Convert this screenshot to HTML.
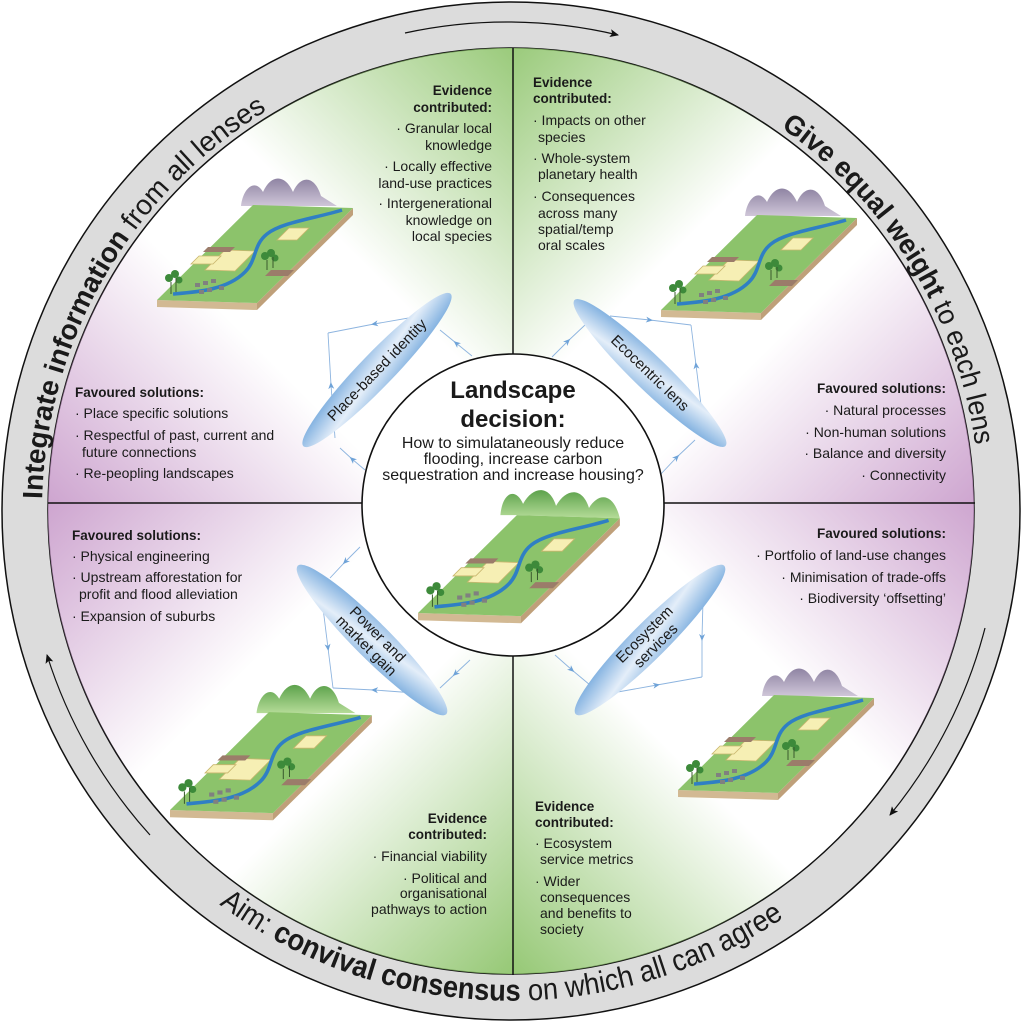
<!DOCTYPE html>
<html><head><meta charset="utf-8"><style>
html,body{margin:0;padding:0;background:#fff}
svg{display:block}
text{font-family:"Liberation Sans",sans-serif;fill:#1a1a1a}
.t{font-size:14px}
.b{font-weight:bold;font-size:13.5px}
</style></head><body>
<svg width="1022" height="1023" viewBox="0 0 1022 1023" xmlns="http://www.w3.org/2000/svg">
<defs>
<clipPath id="inner"><circle cx="511" cy="511" r="463"/></clipPath>
<linearGradient id="gTL" gradientUnits="userSpaceOnUse" x1="513" y1="503" x2="763" y2="253"><stop offset="0.18" stop-color="#8ec46b" stop-opacity="0"/><stop offset="1" stop-color="#8ec46b" stop-opacity="1"/></linearGradient>
<linearGradient id="pTL" gradientUnits="userSpaceOnUse" x1="513" y1="503" x2="263" y2="753"><stop offset="0.2" stop-color="#c697c8" stop-opacity="0"/><stop offset="1" stop-color="#c697c8" stop-opacity="0.95"/></linearGradient>
<linearGradient id="gTR" gradientUnits="userSpaceOnUse" x1="513" y1="503" x2="263" y2="253"><stop offset="0.18" stop-color="#8ec46b" stop-opacity="0"/><stop offset="1" stop-color="#8ec46b" stop-opacity="1"/></linearGradient>
<linearGradient id="pTR" gradientUnits="userSpaceOnUse" x1="513" y1="503" x2="763" y2="753"><stop offset="0.2" stop-color="#c697c8" stop-opacity="0"/><stop offset="1" stop-color="#c697c8" stop-opacity="0.95"/></linearGradient>
<linearGradient id="gBL" gradientUnits="userSpaceOnUse" x1="513" y1="503" x2="763" y2="753"><stop offset="0.18" stop-color="#8ec46b" stop-opacity="0"/><stop offset="1" stop-color="#8ec46b" stop-opacity="1"/></linearGradient>
<linearGradient id="pBL" gradientUnits="userSpaceOnUse" x1="513" y1="503" x2="263" y2="253"><stop offset="0.2" stop-color="#c697c8" stop-opacity="0"/><stop offset="1" stop-color="#c697c8" stop-opacity="0.95"/></linearGradient>
<linearGradient id="gBR" gradientUnits="userSpaceOnUse" x1="513" y1="503" x2="263" y2="753"><stop offset="0.18" stop-color="#8ec46b" stop-opacity="0"/><stop offset="1" stop-color="#8ec46b" stop-opacity="1"/></linearGradient>
<linearGradient id="pBR" gradientUnits="userSpaceOnUse" x1="513" y1="503" x2="763" y2="253"><stop offset="0.2" stop-color="#c697c8" stop-opacity="0"/><stop offset="1" stop-color="#c697c8" stop-opacity="0.95"/></linearGradient>
<linearGradient id="lensG" x1="0" y1="0" x2="1" y2="1"><stop offset="0" stop-color="#5e9bd7"/><stop offset="0.5" stop-color="#e4eef9"/><stop offset="1" stop-color="#5e9bd7"/></linearGradient>
<linearGradient id="mp" x1="0" y1="0" x2="0" y2="1"><stop offset="0" stop-color="#8f84a3"/><stop offset="1" stop-color="#cfc6d8"/></linearGradient>
<linearGradient id="mg" x1="0" y1="0" x2="0" y2="1"><stop offset="0" stop-color="#5da24c"/><stop offset="1" stop-color="#b5dc98"/></linearGradient>
<marker id="ah" markerWidth="10" markerHeight="10" refX="8" refY="5" orient="auto" markerUnits="userSpaceOnUse"><path d="M0,1 L9,5 L0,9 L2,5 Z" fill="#111"/></marker>
<marker id="ba" markerWidth="8" markerHeight="8" refX="4" refY="4" orient="auto" markerUnits="userSpaceOnUse"><path d="M0,1 L7,4 L0,7 L2,4 Z" fill="#6fa3d8"/></marker>
<path id="cw" d="M 42,511 A 469 469 0 1 1 980,511 A 469 469 0 1 1 42,511"/>
<path id="bot" d="M 216,902 A 490 490 0 0 0 826,886"/>
<g id="tile">
<polygon points="0,0 100,3 100,10 0,7" fill="#d2b993"/>
<polygon points="100,3 196,-92 196,-85 100,10" fill="#bfa07a"/>
<polygon points="0,0 100,3 196,-92 96,-95" fill="#8cc36b"/>
<polygon points="48,-30 78,-29 98,-49 68,-50" fill="#f6efb4" stroke="#c9b66e" stroke-width=".8"/>
<polygon points="34,-36 56,-36 64,-44 42,-44" fill="#f6efb4" stroke="#c9b66e" stroke-width=".8"/>
<polygon points="46,-48 73,-48 78,-53 51,-53" fill="#9b7c6a"/>
<polygon points="120,-60 140,-60 152,-72 132,-72" fill="#f6efb4" stroke="#c9b66e" stroke-width=".8"/>
<polygon points="108,-24 131,-24 137,-30 114,-30" fill="#9b7c6a"/>
<path d="M 16,-6 C 40,-8 70,-10 88,-28 C 100,-40 96,-55 110,-66 C 125,-78 160,-82 185,-90" fill="none" stroke="#2f7fc4" stroke-width="3.5"/>
<g fill="#808080"><rect x="38" y="-17" width="5" height="4"/><rect x="46" y="-19" width="5" height="4"/><rect x="54" y="-21" width="5" height="4"/><rect x="42" y="-10" width="5" height="4"/><rect x="50" y="-12" width="5" height="4"/><rect x="62" y="-14" width="5" height="4"/></g>
<g fill="#3d8a3a"><circle cx="12" cy="-22" r="4"/><circle cx="18" cy="-26" r="4"/><circle cx="22" cy="-20" r="3.5"/><circle cx="108" cy="-44" r="4"/><circle cx="114" cy="-47" r="4"/><circle cx="118" cy="-42" r="3.5"/></g>
<g stroke="#3a5b2e" stroke-width="1"><line x1="14" y1="-18" x2="14" y2="-6"/><line x1="19" y1="-22" x2="19" y2="-8"/><line x1="110" y1="-40" x2="110" y2="-30"/><line x1="116" y1="-43" x2="116" y2="-32"/></g>
</g>
<path id="mtn" d="M 84,-94 C 86,-112 98,-122 106,-108 C 114,-126 128,-126 136,-108 C 144,-126 158,-124 164,-104 L 180,-94 Z" fill="url(#mp)"/>
</defs>

<circle cx="511" cy="511" r="509" fill="#dcdcdc" stroke="#111" stroke-width="1.5"/>
<circle cx="511" cy="511" r="463" fill="#fff" stroke="#111" stroke-width="1.5"/>

<g clip-path="url(#inner)">
<rect x="40" y="40" width="473" height="463" fill="url(#gTL)"/>
<rect x="40" y="40" width="473" height="463" fill="url(#pTL)"/>
<rect x="513" y="40" width="470" height="463" fill="url(#gTR)"/>
<rect x="513" y="40" width="470" height="463" fill="url(#pTR)"/>
<rect x="40" y="503" width="473" height="480" fill="url(#gBL)"/>
<rect x="40" y="503" width="473" height="480" fill="url(#pBL)"/>
<rect x="513" y="503" width="470" height="480" fill="url(#gBR)"/>
<rect x="513" y="503" width="470" height="480" fill="url(#pBR)"/>
</g>
<line x1="48" y1="503" x2="975" y2="503" stroke="#111" stroke-width="1.5"/>
<line x1="513" y1="48" x2="513" y2="975" stroke="#111" stroke-width="1.5"/>

<g fill="none" stroke="#111" stroke-width="1.2" marker-end="url(#ah)">
<path d="M 405,33 A 479 479 0 0 1 618,35"/>
<path d="M 150,835 A 486 486 0 0 1 47,655"/>
<path d="M 985,628 A 488 488 0 0 1 890,815"/>
</g>

<text font-size="28"><textPath href="#cw" startOffset="12" textLength="468" lengthAdjust="spacingAndGlyphs"><tspan font-weight="bold">Integrate information</tspan> from all lenses</textPath></text>
<text font-size="28"><textPath href="#cw" startOffset="1024" textLength="383" lengthAdjust="spacingAndGlyphs"><tspan font-weight="bold">Give equal weight</tspan> to each lens</textPath></text>
<text font-size="30"><textPath href="#bot" startOffset="4" textLength="602" lengthAdjust="spacingAndGlyphs">Aim: <tspan font-weight="bold">convival consensus</tspan> on which all can agree</textPath></text>

<g transform="translate(157,300)"><use href="#mtn"/><use href="#tile"/></g>
<g transform="translate(661,310)"><use href="#mtn"/><use href="#tile"/></g>
<g transform="translate(170,810) scale(1.03)"><path d="M 84,-94 C 86,-112 98,-122 106,-108 C 114,-126 128,-126 136,-108 C 144,-126 158,-124 164,-104 L 180,-94 Z" fill="url(#mg)"/><use href="#tile"/></g>
<g transform="translate(678,790)"><use href="#mtn"/><use href="#tile"/></g>

<g fill="none" stroke="#8db4df" stroke-width="0.9" marker-mid="url(#ba)">
<polyline points="472,356 456,343 440,330"/>
<polyline points="420,316 374,324 328,333"/>
<polyline points="335,438 331,385 328,333"/>
<polyline points="365,470 352,459 340,448"/>
<polyline points="552,357 568,341 585,325"/>
<polyline points="610,316 650,320 691,325"/>
<polyline points="701,405 696,365 691,325"/>
<polyline points="660,475 677,457 695,440"/>
<polyline points="360,547 345,562 330,578"/>
<polyline points="323,608 328,648 333,688"/>
<polyline points="415,693 374,690 333,688"/>
<polyline points="470,660 455,674 440,688"/>
<polyline points="553,545 569,557 585,570"/>
<polyline points="703,600 702,638 702,677"/>
<polyline points="612,693 657,685 702,677"/>
<polyline points="555,655 572,670 590,685"/>
</g>

<g transform="translate(377,370) rotate(-46)"><ellipse rx="106" ry="17" fill="url(#lensG)"/><text x="0" y="5" font-size="15" text-anchor="middle">Place-based identity</text></g>
<g transform="translate(650,373) rotate(44)"><ellipse rx="105" ry="17" fill="url(#lensG)"/><text x="0" y="5" font-size="15" text-anchor="middle">Ecocentric lens</text></g>
<g transform="translate(372,640) rotate(45)"><ellipse rx="105" ry="18" fill="url(#lensG)"/><text x="0" y="-3" font-size="15" text-anchor="middle">Power and</text><text x="0" y="13" font-size="15" text-anchor="middle">market gain</text></g>
<g transform="translate(650,640) rotate(-45)"><ellipse rx="105" ry="18" fill="url(#lensG)"/><text x="0" y="-3" font-size="15" text-anchor="middle">Ecosystem</text><text x="0" y="13" font-size="15" text-anchor="middle">services</text></g>

<circle cx="513" cy="505" r="151" fill="#fff" stroke="#111" stroke-width="1.6"/>
<text x="513" y="398" font-size="24" font-weight="bold" text-anchor="middle">Landscape</text>
<text x="513" y="427" font-size="24" font-weight="bold" text-anchor="middle">decision:</text>
<text x="513" y="448" font-size="16" text-anchor="middle">How to simulataneously reduce</text>
<text x="513" y="464" font-size="16" text-anchor="middle">flooding, increase carbon</text>
<text x="513" y="480" font-size="16" text-anchor="middle">sequestration and increase housing?</text>
<g transform="translate(418,613) scale(1.03)">
<path d="M 80,-95 C 82,-118 95,-122 102,-106 C 112,-124 128,-124 134,-104 C 144,-122 160,-122 166,-102 C 176,-118 190,-116 196,-92 L 96,-95 Z" fill="url(#mg)"/>
<use href="#tile"/>
</g>

<g class="t" text-anchor="end">
<text x="492" y="95" class="b">Evidence</text>
<text x="492" y="112" class="b">contributed:</text>
<text x="492" y="133">· Granular local</text>
<text x="492" y="150">knowledge</text>
<text x="492" y="171">· Locally effective</text>
<text x="492" y="188">land-use practices</text>
<text x="492" y="208">· Intergenerational</text>
<text x="492" y="225">knowledge on</text>
<text x="492" y="241">local species</text>
</g>
<g class="t">
<text x="75" y="397" class="b">Favoured solutions:</text>
<text x="75" y="418">· Place specific solutions</text>
<text x="75" y="440">· Respectful of past, current and</text>
<text x="82" y="457">future connections</text>
<text x="75" y="478">· Re-peopling landscapes</text>
</g>
<g class="t">
<text x="533" y="87" class="b">Evidence</text>
<text x="533" y="103" class="b">contributed:</text>
<text x="533" y="125">· Impacts on other</text>
<text x="538" y="142">species</text>
<text x="533" y="163">· Whole-system</text>
<text x="538" y="179">planetary health</text>
<text x="533" y="201">· Consequences</text>
<text x="538" y="218">across many</text>
<text x="538" y="234">spatial/temp</text>
<text x="538" y="250">oral scales</text>
</g>
<g class="t" text-anchor="end">
<text x="946" y="393" class="b">Favoured solutions:</text>
<text x="946" y="415">· Natural processes</text>
<text x="946" y="437">· Non-human solutions</text>
<text x="946" y="458">· Balance and diversity</text>
<text x="946" y="480">· Connectivity</text>
</g>
<g class="t">
<text x="72" y="540" class="b">Favoured solutions:</text>
<text x="72" y="561">· Physical engineering</text>
<text x="72" y="582">· Upstream afforestation for</text>
<text x="79" y="599">profit and flood alleviation</text>
<text x="72" y="621">· Expansion of suburbs</text>
</g>
<g class="t" text-anchor="end">
<text x="487" y="823" class="b">Evidence</text>
<text x="487" y="839" class="b">contributed:</text>
<text x="487" y="861">· Financial viability</text>
<text x="487" y="883">· Political and</text>
<text x="487" y="898">organisational</text>
<text x="487" y="914">pathways to action</text>
</g>
<g class="t" text-anchor="end">
<text x="946" y="538" class="b">Favoured solutions:</text>
<text x="946" y="560">· Portfolio of land-use changes</text>
<text x="946" y="582">· Minimisation of trade-offs</text>
<text x="946" y="603">· Biodiversity ‘offsetting’</text>
</g>
<g class="t">
<text x="535" y="811" class="b">Evidence</text>
<text x="535" y="827" class="b">contributed:</text>
<text x="535" y="848">· Ecosystem</text>
<text x="540" y="864">service metrics</text>
<text x="535" y="886">· Wider</text>
<text x="540" y="902">consequences</text>
<text x="540" y="918">and benefits to</text>
<text x="540" y="934">society</text>
</g>
</svg>
</body></html>
